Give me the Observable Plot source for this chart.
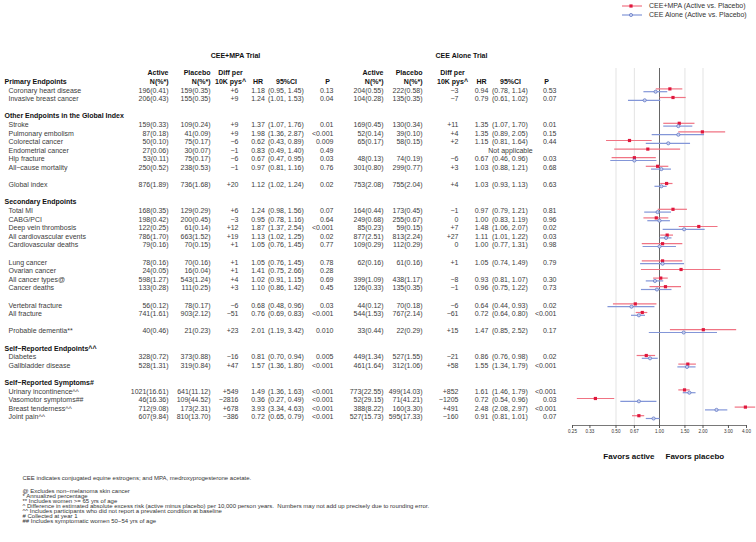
<!DOCTYPE html>
<html><head><meta charset="utf-8">
<script src="https://cdn.jsdelivr.net/npm/d3@7"></script>
<script src="https://cdn.jsdelivr.net/npm/@observablehq/plot@0.6"></script>
<style>
html,body{margin:0;padding:0;background:#fff;}
#wrap{position:relative;width:756px;height:542px;overflow:hidden;}
</style></head><body><div id="wrap"></div>
<script>
// ---------------- DATA ----------------
const rowLabels = [
 "Primary Endpoints","Coronary heart disease","Invasive breast cancer","",
 "Other Endpoints in the Global Index","Stroke","Pulmonary embolism","Colorectal cancer","Endometrial cancer","Hip fracture","All\u2212cause mortality","",
 "Global index","",
 "Secondary Endpoints","Total MI","CABG/PCI","Deep vein thrombosis","All cardiovascular events","Cardiovascular deaths","",
 "Lung cancer","Ovarian cancer","All cancer types@","Cancer deaths","",
 "Vertebral fracture","All fracture","",
 "Probable dementia**","",
 "Self\u2212Reported Endpoints^^","Diabetes","Gallbladder disease","",
 "Self\u2212Reported Symptoms#","Urinary incontinence^^","Vasomotor symptoms##","Breast tenderness^^","Joint pain^^"
];
const sectionHeaders = ["Primary Endpoints","Other Endpoints in the Global Index","Secondary Endpoints","Self\u2212Reported Endpoints^^","Self\u2212Reported Symptoms#"];

// CEE+MPA trial
const mpaActive = ["196(0.41)","206(0.43)","159(0.33)","87(0.18)","50(0.10)","27(0.06)","53(0.11)","250(0.52)","876(1.89)","168(0.35)","198(0.42)","122(0.25)","786(1.70)","79(0.16)","78(0.16)","24(0.05)","598(1.27)","133(0.28)","56(0.12)","741(1.61)","40(0.46)","328(0.72)","528(1.31)","1021(16.61)","46(16.36)","712(9.08)","607(9.84)"];
const mpaPlacebo = ["159(0.35)","155(0.35)","109(0.24)","41(0.09)","75(0.17)","30(0.07)","75(0.17)","238(0.53)","736(1.68)","129(0.29)","200(0.45)","61(0.14)","663(1.52)","70(0.15)","70(0.16)","16(0.04)","543(1.24)","111(0.25)","78(0.17)","903(2.12)","21(0.23)","373(0.88)","319(0.84)","641(11.12)","109(44.52)","173(2.31)","810(13.70)"];
const mpaDiff = ["+6","+9","+9","+9","\u22126","\u22121","\u22126","\u22121","+20","+6","\u22123","+12","+19","+1","+1","+1","+4","+3","\u22126","\u221251","+23","\u221216","+47","+549","\u22122816","+678","\u2212386"];
const mpaHR = [1.18,1.24,1.37,1.98,0.62,0.83,0.67,0.97,1.12,1.24,0.95,1.87,1.13,1.05,1.05,1.41,1.02,1.10,0.68,0.76,2.01,0.81,1.57,1.49,0.36,3.93,0.72];
const mpaLo = [0.95,1.01,1.07,1.36,0.43,0.49,0.47,0.81,1.02,0.98,0.78,1.37,1.02,0.76,0.76,0.75,0.91,0.86,0.48,0.69,1.19,0.70,1.36,1.36,0.27,3.34,0.65];
const mpaHi = [1.45,1.53,1.76,2.87,0.89,1.40,0.95,1.16,1.24,1.56,1.16,2.54,1.25,1.45,1.45,2.66,1.15,1.42,0.96,0.83,3.42,0.94,1.80,1.63,0.49,4.63,0.79];
const mpaP = ["0.13","0.04","0.01","<0.001","0.009","0.49","0.03","0.76","0.02","0.07","0.64","<0.001","0.02","0.77","0.78","0.28","0.69","0.45","0.03","<0.001","0.010","0.005","<0.001","<0.001","<0.001","<0.001","<0.001"];

// CEE Alone trial
const aloneActive = ["204(0.55)","104(0.28)","169(0.45)","52(0.14)","65(0.17)",null,"48(0.13)","301(0.80)","753(2.08)","164(0.44)","249(0.68)","85(0.23)","877(2.51)","109(0.29)","62(0.16)",null,"399(1.09)","126(0.33)","44(0.12)","544(1.53)","33(0.44)","449(1.34)","461(1.64)","773(22.55)","52(29.15)","388(8.22)","527(15.73)"];
const alonePlacebo = ["222(0.58)","135(0.35)","130(0.34)","39(0.10)","58(0.15)",null,"74(0.19)","299(0.77)","755(2.04)","173(0.45)","255(0.67)","59(0.15)","813(2.24)","112(0.29)","61(0.16)",null,"438(1.17)","135(0.35)","70(0.18)","767(2.14)","22(0.29)","527(1.55)","312(1.06)","499(14.03)","71(41.21)","160(3.30)","595(17.33)"];
const aloneDiff = ["\u22123","\u22127","+11","+4","+2",null,"\u22126","+3","+4","\u22121","0","+7","+27","0","+1",null,"\u22128","\u22121","\u22126","\u221261","+15","\u221221","+58","+852","\u22121205","+491","\u2212160"];
const aloneHR = [0.94,0.79,1.35,1.35,1.15,null,0.67,1.03,1.03,0.97,1.00,1.48,1.11,1.00,1.05,null,0.93,0.96,0.64,0.72,1.47,0.86,1.55,1.61,0.72,2.48,0.91];
const aloneLo = [0.78,0.61,1.07,0.89,0.81,null,0.46,0.88,0.93,0.79,0.83,1.06,1.01,0.77,0.74,null,0.81,0.75,0.44,0.64,0.85,0.76,1.34,1.46,0.54,2.08,0.81];
const aloneHi = [1.14,1.02,1.70,2.05,1.64,null,0.96,1.21,1.13,1.21,1.19,2.07,1.22,1.31,1.49,null,1.07,1.22,0.93,0.80,2.52,0.98,1.79,1.79,0.96,2.97,1.01];
const aloneP = ["0.53","0.07","0.01","0.15","0.44",null,"0.03","0.68","0.63","0.81","0.96","0.02","0.03","0.98","0.79",null,"0.30","0.73","0.02","<0.001","0.17","0.02","<0.001","<0.001","0.03","<0.001","0.07"];

const notApplicable = ["Endometrial cancer"];
const xTicks = [0.25, 0.33, 0.50, 0.67, 1.00, 1.50, 2.00, 3.00, 4.00];
const gridVals = [0.50, 0.67, 1.50, 2.00];
const trialTitles = ["CEE+MPA Trial", "CEE Alone Trial"];
const seriesNames = ["CEE+MPA (Active vs. Placebo)", "CEE Alone (Active vs. Placebo)"];
const caption = "CEE indicates conjugated equine estrogens; and MPA, medroxyprogesterone acetate.";
const notes = [
 "@ Excludes non\u2212melanoma skin cancer",
 "* Annualized percentage",
 "** Includes women >= 65 yrs of age",
 "^ Difference in estimated absolute excess risk (active minus placebo) per 10,000 person years.  Numbers may not add up precisely due to rounding error.",
 "^^ Includes participants who did not report a prevalent condition at baseline",
 "# Collected at year 1",
 "## Includes symptomatic women 50\u221254 yrs of age"
];

// ---------------- LAYOUT ----------------
const W = 756, H = 542, ML = 572, MR = 10, MT = 68, MB = 117;
const RED_LINE = "#f07383", RED = "#e0173d", BLUE_LINE = "#8396d8", BLUE = "#5a70c0", BLUE_FILL = "#c7d1f0";
const fam = '"Liberation Sans", Arial, Helvetica, sans-serif';
const TXT = "#3c3c3c", BOLD = "#111";

const endpoints = rowLabels.filter(d => d && !sectionHeaders.includes(d));
const rows = endpoints.map((label, i) => ({label, i, row: rowLabels.indexOf(label)}));
const sections = sectionHeaders.map(label => ({label, row: rowLabels.indexOf(label)}));
const mpaRows = rows.map(d => ({row: d.row, hr: mpaHR[d.i], lo: mpaLo[d.i], hi: mpaHi[d.i]}));
const aloneRows = rows.filter(d => aloneHR[d.i] != null).map(d => ({row: d.row, hr: aloneHR[d.i], lo: aloneLo[d.i], hi: aloneHi[d.i]}));
const naRows = notApplicable.map(l => ({row: rowLabels.indexOf(l)}));

const blocks = [
  {title: trialTitles[0], tx: 235, active: 168, placebo: 210, diffC: 230, diff: 238, hr: 257.5, ci: 267.5, ciH: 286, pH: 327, p: 333,
   A: mpaActive, P: mpaPlacebo, D: mpaDiff, HR: mpaHR, L: mpaLo, U: mpaHi, PV: mpaP},
  {title: trialTitles[1], tx: 461, active: 383, placebo: 422, diffC: 452, diff: 458, hr: 481, ci: 491.5, ciH: 510, pH: 546, p: 556,
   A: aloneActive, P: alonePlacebo, D: aloneDiff, HR: aloneHR, L: aloneLo, U: aloneHi, PV: aloneP}
];

function col(data, px, anchor, opts) {
  return Plot.text(data, Object.assign({frameAnchor: "left", dx: px - ML, textAnchor: anchor, fontSize: 7, fill: TXT}, opts));
}

const marks = [
  Plot.ruleX(gridVals, {stroke: "#dcdcdc", strokeWidth: 0.8}),
  Plot.ruleX([1], {stroke: "#555", strokeWidth: 0.9}),
  Plot.frame({anchor: "bottom", stroke: "#555", strokeWidth: 0.8}),
  Plot.axisX({ticks: xTicks, tickFormat: d => d.toFixed(2), tickSize: 3, tickPadding: 1.5, fontSize: 4.6, label: null, stroke: "#555", fill: "#333"}),
  // forest
  Plot.ruleY(mpaRows, {y: "row", x1: "lo", x2: "hi", dy: -1.4, stroke: RED_LINE, strokeWidth: 1.2}),
  Plot.ruleY(aloneRows, {y: "row", x1: "lo", x2: "hi", dy: 1.4, stroke: BLUE_LINE, strokeWidth: 1.2}),
  Plot.dot(mpaRows, {x: "hr", y: "row", dy: -1.4, symbol: "square", r: 1.8, fill: RED, stroke: "none"}),
  Plot.dot(aloneRows, {x: "hr", y: "row", dy: 1.4, symbol: "circle", r: 1.6, fill: BLUE_FILL, stroke: BLUE, strokeWidth: 0.7}),
  // row labels
  col(sections, 4, "start", {y: "row", text: "label", fontWeight: "bold", fill: BOLD}),
  col(rows, 8, "start", {y: "row", text: "label"}),
  col(naRows, 510, "middle", {y: "row", text: () => "Not applicable"}),
  // favors
  Plot.text([1], {x: d => d, frameAnchor: "bottom", dy: 33, dx: -5, textAnchor: "end", text: () => "Favors active", fontSize: 8, fontWeight: "bold", fill: BOLD}),
  Plot.text([1], {x: d => d, frameAnchor: "bottom", dy: 33, dx: 6, textAnchor: "start", text: () => "Favors placebo", fontSize: 8, fontWeight: "bold", fill: BOLD}),
  // footnotes
  Plot.text([caption], {frameAnchor: "bottom-left", dx: 22 - ML, dy: 479 - (H - MB), textAnchor: "start", fontSize: 6, fill: "#333"}),
  Plot.text([notes.join("\n")], {frameAnchor: "bottom-left", dx: 22 - ML, dy: 506 - (H - MB), textAnchor: "start", lineAnchor: "middle", lineHeight: 5.1 / 6, fontSize: 6, fill: "#333"})
];

for (const b of blocks) {
  const hb = {fontWeight: "bold", fill: BOLD};
  const has = rows.filter(d => b.HR[d.i] != null);
  marks.push(
    col([{row: -3.05}], b.tx, "middle", Object.assign({y: "row", text: () => b.title}, hb)),
    col([{row: -1}], b.active, "end", Object.assign({y: "row", text: () => "Active"}, hb)),
    col([{row: 0}], b.active, "end", Object.assign({y: "row", text: () => "N(%*)"}, hb)),
    col([{row: -1}], b.placebo, "end", Object.assign({y: "row", text: () => "Placebo"}, hb)),
    col([{row: 0}], b.placebo, "end", Object.assign({y: "row", text: () => "N(%*)"}, hb)),
    col([{row: -1}], b.diffC, "middle", Object.assign({y: "row", text: () => "Diff per"}, hb)),
    col([{row: 0}], b.diffC, "middle", Object.assign({y: "row", text: () => "10K pys^"}, hb)),
    col([{row: 0}], b.hr, "middle", Object.assign({y: "row", text: () => "HR"}, hb)),
    col([{row: 0}], b.ciH, "middle", Object.assign({y: "row", text: () => "95%CI"}, hb)),
    col([{row: 0}], b.pH, "middle", Object.assign({y: "row", text: () => "P"}, hb)),
    col(has, b.active, "end", {y: "row", text: d => b.A[d.i]}),
    col(has, b.placebo, "end", {y: "row", text: d => b.P[d.i]}),
    col(has, b.diff, "end", {y: "row", text: d => b.D[d.i]}),
    col(has, b.hr, "middle", {y: "row", text: d => b.HR[d.i].toFixed(2)}),
    col(has, b.ci, "start", {y: "row", text: d => `(${b.L[d.i].toFixed(2)}, ${b.U[d.i].toFixed(2)})`}),
    col(has, b.p, "end", {y: "row", text: d => b.PV[d.i]})
  );
}

const chart = Plot.plot({
  width: W, height: H, marginLeft: ML, marginRight: MR, marginTop: MT, marginBottom: MB,
  style: {fontFamily: fam, background: "white", overflow: "visible"},
  x: {type: "log", domain: [0.25, 4]},
  y: {domain: [0, 39], range: [81.2, 416.6], axis: null},
  marks
});
const wrap = document.getElementById("wrap");
wrap.appendChild(chart);

// legend (overlay)
const lg = document.createElementNS("http://www.w3.org/2000/svg", "svg");
lg.setAttribute("width", W); lg.setAttribute("height", 22);
lg.style.position = "absolute"; lg.style.left = "0"; lg.style.top = "0";
const sel = d3.select(lg).style("font-family", fam);
const items = [
  {name: seriesNames[0], y: 6, line: RED_LINE},
  {name: seriesNames[1], y: 15, line: BLUE_LINE}
];
items.forEach((it, k) => {
  sel.append("line").attr("x1", 622).attr("x2", 642).attr("y1", it.y).attr("y2", it.y).attr("stroke", it.line).attr("stroke-width", 1.2);
  if (k === 0) sel.append("rect").attr("x", 629.4).attr("y", it.y - 1.6).attr("width", 3.2).attr("height", 3.2).attr("fill", RED);
  else sel.append("circle").attr("cx", 631).attr("cy", it.y).attr("r", 1.6).attr("fill", BLUE_FILL).attr("stroke", BLUE).attr("stroke-width", 0.7);
  sel.append("text").attr("x", 649).attr("y", it.y).attr("dy", "0.35em").attr("font-size", 7).attr("fill", "#333").text(it.name);
});
wrap.appendChild(lg);
</script></body></html>
